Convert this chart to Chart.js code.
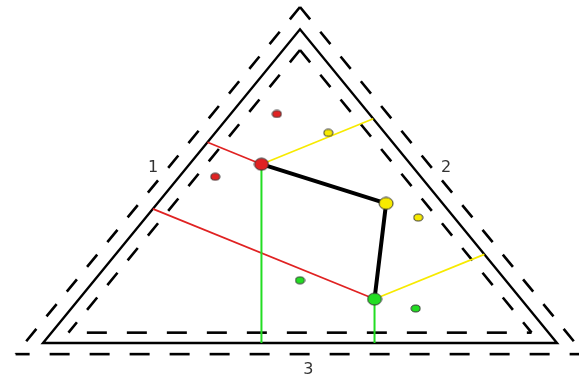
<!DOCTYPE html>
<html><head><meta charset="utf-8">
<script src="https://cdn.jsdelivr.net/npm/chart.js@4/dist/chart.umd.min.js"></script>
<style>html,body{margin:0;padding:0;background:#fff;overflow:hidden}#wrap{width:579px;height:381px;position:relative}</style>
</head><body><div id="wrap"><canvas id="c" width="579" height="381"></canvas></div>
<script>
// Ternary compositions [part 1, part 2, part 3]; part i = distance to side i (each point sums to 1)
const sideLabels = ['1', '2', '3'];
const mainNames  = ['red', 'yellow', 'green'];
const mainPart1  = [0.14, 0.445, 0.575];
const mainPart2  = [0.29, 0.11, 0.285];
const mainPart3  = [0.57, 0.445, 0.14];
const minorGroup = ['red', 'red', 'yellow', 'yellow', 'green', 'green'];
const minorPart1 = [0.09, 0.07, 0.22, 0.53, 0.40, 0.67];
const minorPart2 = [0.18, 0.40, 0.11, 0.07, 0.40, 0.22];
const minorPart3 = [0.73, 0.53, 0.67, 0.40, 0.20, 0.11];
const projectedPoints = ['red', 'green'];   // points with perpendiculars drawn to the three sides
const pathOrder = ['red', 'yellow', 'green']; // thick black connecting path

const H = Math.sqrt(3) / 2;
function tern(a1, a2, a3) { return { x: a1 + a3 / 2, y: a3 * H }; }

const COL = { red: '#e02222', yellow: '#f7ea00', green: '#22dd22' };
const sideCol = [COL.red, COL.yellow, COL.green];

function ellipseImg(w, h, fill) {
  const c = document.createElement('canvas');
  c.width = w + 2; c.height = h + 2;
  const g = c.getContext('2d');
  g.beginPath();
  g.ellipse((w + 2) / 2, (h + 2) / 2, w / 2, h / 2, 0, 0, Math.PI * 2);
  g.fillStyle = fill; g.fill();
  g.lineWidth = 1; g.strokeStyle = '#333'; g.stroke();
  return c;
}

const datasets = [];
function lineDs(pts, color, width, dash, order, dashOffset) {
  datasets.push({
    data: pts, showLine: true, borderColor: color, borderWidth: width,
    borderDash: dash || [], borderDashOffset: dashOffset || 0,
    pointRadius: 0, pointHoverRadius: 0, fill: false, tension: 0,
    borderCapStyle: 'butt', borderJoinStyle: 'miter', order: order
  });
}

// Frame triangles: solid (d=0), outer dashed (d<0) and inner dashed (d>0)
function triCorners(d) {
  return [tern(d, 1 - 2 * d, d), tern(1 - 2 * d, d, d), tern(d, d, 1 - 2 * d)]; // left, right, apex
}
[[-0.0355, 'outer'], [0.033, 'inner']].forEach(([d, kind]) => {
  const [L, R, A] = triCorners(d);
  lineDs([L, R], '#000', 2.6, [20, 20], 10, kind === 'inner' ? 21.6 : 6);
  lineDs([A, L], '#000', 2.6, [16, 16], 10, 0);
  lineDs([A, R], '#000', 2.6, [16, 16], 10, 0);
});
{
  const [L, R, A] = triCorners(0);
  lineDs([L, R, A, L, R], '#000', 2.4, [], 9);
}

// Perpendiculars from selected points to each side
projectedPoints.forEach(name => {
  const i = mainNames.indexOf(name);
  const a1 = mainPart1[i], a2 = mainPart2[i], a3 = mainPart3[i];
  const p = tern(a1, a2, a3);
  const feet = [tern(0, a2 + a1 / 2, a3 + a1 / 2), tern(a1 + a2 / 2, 0, a3 + a2 / 2), tern(a1 + a3 / 2, a2 + a3 / 2, 0)];
  feet.forEach((f, k) => lineDs([p, f], sideCol[k], k === 2 ? 2 : 1.7, [], 5));
});

// Thick black path
lineDs(pathOrder.map(n => { const i = mainNames.indexOf(n); return tern(mainPart1[i], mainPart2[i], mainPart3[i]); }), '#000', 4, [], 3);
datasets[datasets.length - 1].borderCapStyle = 'round';
datasets[datasets.length - 1].borderJoinStyle = 'round';

// Minor points
minorGroup.forEach((g, i) => {
  datasets.push({
    data: [tern(minorPart1[i], minorPart2[i], minorPart3[i])],
    pointStyle: ellipseImg(9, 7, COL[g]), pointRadius: 4, showLine: false, order: 2
  });
});
// Main points
mainNames.forEach((n, i) => {
  datasets.push({
    data: [tern(mainPart1[i], mainPart2[i], mainPart3[i])],
    pointStyle: ellipseImg(14, 12, COL[n]), pointRadius: 6, showLine: false, order: 1
  });
});

// Side labels plugin (positions in normalised triangle units: x across base, y as fraction of height)
const labelPos = [[0.214, 0.558], [0.784, 0.558], [0.516, -0.086]];
const labelPlugin = {
  id: 'sideLabels',
  afterDatasetsDraw(chart) {
    const { ctx, scales } = chart;
    ctx.save();
    ctx.font = '16px "DejaVu Sans", sans-serif';
    ctx.fillStyle = '#333';
    ctx.textAlign = 'center'; ctx.textBaseline = 'middle';
    sideLabels.forEach((t, k) => {
      ctx.fillText(t, scales.x.getPixelForValue(labelPos[k][0]), scales.y.getPixelForValue(labelPos[k][1] * H));
    });
    ctx.restore();
  }
};

new Chart(document.getElementById('c'), {
  type: 'scatter',
  data: { datasets },
  options: {
    responsive: false, animation: false, devicePixelRatio: 1,
    layout: { padding: 0, autoPadding: false },
    events: [],
    plugins: { legend: { display: false }, tooltip: { enabled: false } },
    scales: {
      x: { type: 'linear', display: false, min: -43 / 514, max: 536 / 514 },
      y: { type: 'linear', display: false, min: -38 / 313.7 * H, max: 343 / 313.7 * H }
    }
  },
  plugins: [labelPlugin]
});
</script></body></html>
